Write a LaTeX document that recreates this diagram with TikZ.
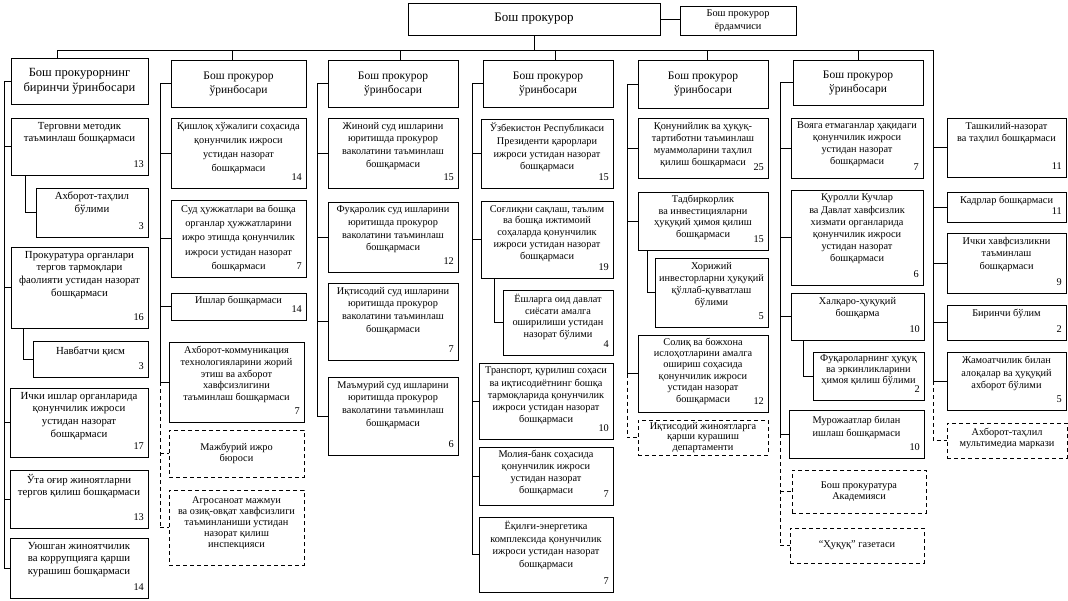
\documentclass[tikz,border=0pt]{standalone}
\usepackage{fontspec}
\setmainfont{Liberation Serif}
\tikzset{
 ubox/.style={draw, line width=0.8pt, inner sep=0pt, outer sep=0pt},
 dbox/.style={dash pattern=on 4pt off 3pt},
 btxt/.style={font=\fontsize{10.3}{12.6}\selectfont, align=center, inner sep=0pt},
 bnum/.style={font=\fontsize{10.3}{12}\selectfont, inner sep=0pt},
 dtxt/.style={font=\fontsize{11.5}{14}\selectfont, align=center, inner sep=0pt},
 ctxt/.style={font=\fontsize{10.3}{11}\selectfont, align=center, inner sep=0pt},
 conn/.style={line width=0.8pt},
 dconn/.style={line width=0.8pt, dash pattern=on 4pt off 3pt},
}
% [text style]{name}{x1}{y1}{x2}{y2}{text}{number}
\newcommand\ubx[8][]{%
 \node[ubox,minimum width={#5-#3}, minimum height={#6-#4}, anchor=north west] (#2) at (#3,#4) {};
 \node[btxt,#1, anchor=north] (#2-t) at ([yshift=-4pt]#2.north) {#7};
 \node[bnum, anchor=base east] (#2-n) at ([xshift=-4pt,yshift=8pt]#2.south east) {#8};}
% [box style]{name}{x1}{y1}{x2}{y2}{text style}{text}
\newcommand\cbx[8][]{%
 \node[ubox,#1,minimum width={#5-#3}, minimum height={#6-#4}, anchor=north west] (#2) at (#3,#4) {};
 \node[#7] (#2-t) at (#2.center) {#8};}
\begin{document}
\begin{tikzpicture}[x=1pt,y=-1pt]
\useasboundingbox (0,0) rectangle (1068,600);
% top
\node[ubox, minimum width=252, minimum height=32, anchor=north west, font=\fontsize{13}{15}\selectfont] (main) at (408,3) {Бош прокурор};
\node[ubox, minimum width=116, minimum height=29, anchor=north west, align=center, font=\fontsize{10.3}{13}\selectfont] (asst) at (680,6) {Бош прокурор\\ёрдамчиси};
\draw[conn] (main.east) -- (main.east -| asst.west);
\coordinate (t1) at (57,50);
\coordinate (t2) at (232,50);
\coordinate (t3) at (400,50);
\coordinate (t4) at (555,50);
\coordinate (t5) at (707,50);
\coordinate (t6) at (858,50);
\coordinate (t7) at (933,50);
\draw[conn] (main.south) -- (main.south |- t1);
\draw[conn] (t1) -- (t7);
% column 1
\cbx{d1}{11}{58}{148}{104}{dtxt,font=\fontsize{12.5}{15}\selectfont}{Бош прокурорнинг\\биринчи ўринбосари}
\ubx[font=\fontsize{10.8}{12.6}\selectfont]{a1}{11}{118}{148}{175}{Терговни методик\\таъминлаш бошқармаси}{13}
\ubx[font=\fontsize{10.8}{12.6}\selectfont]{a2}{36}{188}{148}{237}{Ахборот-таҳлил\\бўлими}{3}
\ubx[font=\fontsize{10.8}{12.6}\selectfont]{a3}{11}{247}{148}{328}{Прокуратура органлари\\тергов тармоқлари\\фаолияти устидан назорат\\бошқармаси}{16}
\ubx[font=\fontsize{10.8}{12.6}\selectfont, yshift=-2pt]{a4}{33}{341}{148}{377}{Навбатчи қисм}{3}
\ubx[font=\fontsize{10.8}{12.6}\selectfont]{a5}{10}{388}{148}{457}{Ички ишлар органларида\\қонунчилик ижроси\\устидан назорат\\бошқармаси}{17}
\ubx[font=\fontsize{10.8}{12.6}\selectfont]{a6}{10}{470}{148}{528}{Ўта оғир жиноятларни\\тергов қилиш бошқармаси}{13}
\ubx[font=\fontsize{10.8}{12.6}\selectfont]{a7}{10}{538}{148}{598}{Уюшган жиноятчилик\\ва коррупцияга қарши\\курашиш бошқармаси}{14}
\coordinate (s1) at (4,0);
\draw[conn] (t1) -- (t1 |- d1.north);
\draw[conn] (d1.west) -- (d1.west -| s1) -- (a7.west -| s1);
\foreach \n in {a1,a3,a5,a6,a7} \draw[conn] (\n.west -| s1) -- (\n.west);
\draw[conn] ([xshift=14pt]a1.south west) |- (a2.west);
\draw[conn] ([xshift=12pt]a3.south west) |- (a4.west);
% column 2
\cbx{d2}{171}{60}{306}{107}{dtxt}{Бош прокурор\\ўринбосари}
\ubx[font=\fontsize{10.3}{14}\selectfont]{b1}{171}{118}{306}{188}{Қишлоқ хўжалиги соҳасида\\қонунчилик ижроси\\устидан назорат\\бошқармаси}{14}
\ubx[font=\fontsize{10.3}{14.2}\selectfont, yshift=-1pt]{b2}{171}{200}{306}{277}{Суд ҳужжатлари ва бошқа\\органлар ҳужжатларини\\ижро этишда қонунчилик\\ижроси устидан назорат\\бошқармаси}{7}
\ubx[yshift=1pt]{b3}{171}{293}{306}{320}{Ишлар бошқармаси}{14}
\ubx[font=\fontsize{10.3}{11.8}\selectfont]{b4}{169}{342}{304}{422}{Ахборот-коммуникация\\технологияларини жорий\\этиш ва ахборот\\хавфсизлигини\\таъминлаш бошқармаси}{7}
\cbx[dbox]{b5}{169}{430}{304}{477}{ctxt,font=\fontsize{10.3}{11.8}\selectfont}{Мажбурий ижро\\бюроси}
\cbx[dbox]{b6}{169}{490}{304}{565}{ctxt,yshift=4pt}{Агросаноат мажмуи\\ва озиқ-овқат хавфсизлиги\\таъминланиши устидан\\назорат қилиш\\инспекцияси}
\coordinate (s2) at (160,0);
\draw[conn] (t2) -- (t2 |- d2.north);
\draw[conn] (d2.west) -- (d2.west -| s2) -- (b4.west -| s2);
\foreach \n in {b1,b2,b3,b4} \draw[conn] (\n.west -| s2) -- (\n.west);
\draw[dconn] (b4.west -| s2) -- (b6.west -| s2);
\foreach \n in {b5,b6} \draw[dconn] (\n.west -| s2) -- (\n.west);
% column 3
\cbx{d3}{328}{60}{458}{107}{dtxt}{Бош прокурор\\ўринбосари}
\ubx{c1}{328}{118}{458}{188}{Жиноий суд ишларини\\юритишда прокурор\\ваколатини таъминлаш\\бошқармаси}{15}
\ubx{c2}{328}{202}{458}{272}{Фуқаролик суд ишларини\\юритишда прокурор\\ваколатини таъминлаш\\бошқармаси}{12}
\ubx{c3}{328}{283}{458}{360}{Иқтисодий суд ишларини\\юритишда прокурор\\ваколатини таъминлаш\\бошқармаси}{7}
\ubx{c4}{328}{377}{458}{455}{Маъмурий суд ишларини\\юритишда прокурор\\ваколатини таъминлаш\\бошқармаси}{6}
\coordinate (s3) at (317,0);
\draw[conn] (t3) -- (t3 |- d3.north);
\draw[conn] (d3.west) -- (d3.west -| s3) -- (c4.west -| s3);
\foreach \n in {c1,c2,c3,c4} \draw[conn] (\n.west -| s3) -- (\n.west);
% column 4
\cbx{d4}{483}{60}{613}{107}{dtxt}{Бош прокурор\\ўринбосари}
\ubx{e1}{481}{119}{613}{188}{Ўзбекистон Республикаси\\Президенти қарорлари\\ижроси устидан назорат\\бошқармаси}{15}
\ubx[font=\fontsize{10.3}{11.8}\selectfont]{e2}{481}{201}{613}{278}{Соғлиқни сақлаш, таълим\\ва бошқа ижтимоий\\соҳаларда қонунчилик\\ижроси устидан назорат\\бошқармаси}{19}
\ubx[font=\fontsize{10.3}{11.5}\selectfont]{e3}{503}{290}{613}{355}{Ёшларга оид давлат\\сиёсати амалга\\оширилиши устидан\\назорат бўлими}{4}
\ubx[font=\fontsize{10.3}{12.2}\selectfont]{e4}{479}{363}{613}{439}{Транспорт, қурилиш соҳаси\\ва иқтисодиётнинг бошқа\\тармоқларида қонунчилик\\ижроси устидан назорат\\бошқармаси}{10}
\ubx[font=\fontsize{10.3}{12}\selectfont, yshift=1pt]{e5}{479}{447}{613}{505}{Молия-банк соҳасида\\қонунчилик ижроси\\устидан назорат\\бошқармаси}{7}
\ubx{e6}{479}{517}{613}{592}{Ёқилғи-энергетика\\комплексида қонунчилик\\ижроси устидан назорат\\бошқармаси}{7}
\coordinate (s4) at (472,0);
\draw[conn] (t4) -- (t4 |- d4.north);
\draw[conn] (d4.west) -- (d4.west -| s4) -- (e6.west -| s4);
\foreach \n in {e1,e2,e4,e5,e6} \draw[conn] (\n.west -| s4) -- (\n.west);
\draw[conn] ([xshift=13pt]e2.south west) |- (e3.west);
% column 5
\cbx{d5}{638}{60}{768}{108}{dtxt}{Бош прокурор\\ўринбосари}
\ubx[font=\fontsize{10.3}{12}\selectfont]{f1}{638}{118}{768}{178}{Қонунийлик ва ҳуқуқ-\\тартиботни таъминлаш\\муаммоларини таҳлил\\қилиш бошқармаси}{25}
\ubx[font=\fontsize{10.3}{11.5}\selectfont, yshift=1pt]{f2}{638}{192}{768}{250}{Тадбиркорлик\\ва инвестицияларни\\ҳуқуқий ҳимоя қилиш\\бошқармаси}{15}
\ubx[font=\fontsize{10.3}{12}\selectfont]{f3}{655}{258}{768}{327}{Хорижий\\инвесторларни ҳуқуқий\\қўллаб-қувватлаш\\бўлими}{5}
\ubx[font=\fontsize{10.3}{11.4}\selectfont, yshift=1.5pt]{f4}{638}{335}{768}{412}{Солиқ ва божхона\\ислоҳотларини амалга\\ошириш соҳасида\\қонунчилик ижроси\\устидан назорат\\бошқармаси}{12}
\cbx[dbox]{f5}{638}{420}{768}{455}{ctxt,font=\fontsize{10.3}{10.8}\selectfont}{Иқтисодий жиноятларга\\қарши курашиш\\департаменти}
\coordinate (s5) at (627,0);
\draw[conn] (t5) -- (t5 |- d5.north);
\draw[conn] (d5.west) -- (d5.west -| s5) -- (f4.west -| s5);
\foreach \n in {f1,f2,f4} \draw[conn] (\n.west -| s5) -- (\n.west);
\draw[dconn] (f4.west -| s5) -- (f5.west -| s5) -- (f5.west);
\draw[conn] ([xshift=9pt]f2.south west) |- (f3.west);
% column 6
\cbx{d6}{793}{60}{923}{105}{dtxt}{Бош прокурор\\ўринбосари}
\ubx[font=\fontsize{10.3}{12}\selectfont]{g1}{791}{118}{923}{178}{Вояга етмаганлар ҳақидаги\\қонунчилик ижроси\\устидан назорат\\бошқармаси}{7}
\ubx[font=\fontsize{10.3}{12.2}\selectfont]{g2}{791}{190}{923}{285}{Қуролли Кучлар\\ва Давлат хавфсизлик\\хизмати органларида\\қонунчилик ижроси\\устидан назорат\\бошқармаси}{6}
\ubx{g3}{791}{293}{924}{340}{Халқаро-ҳуқуқий\\бошқарма}{10}
\ubx[font=\fontsize{10.3}{10.6}\selectfont, yshift=1pt]{g4}{813}{352}{924}{400}{Фуқароларнинг ҳуқуқ\\ва эркинликларини\\ҳимоя қилиш бўлими}{2}
\ubx[yshift=-2pt]{g5}{789}{410}{924}{458}{Мурожаатлар билан\\ишлаш бошқармаси}{10}
\cbx[dbox]{g6}{792}{470}{926}{513}{ctxt,font=\fontsize{10.3}{10.5}\selectfont}{Бош прокуратура\\Академияси}
\cbx[dbox]{g7}{790}{528}{924}{563}{ctxt}{“Ҳуқуқ” газетаси}
\coordinate (s6) at (780,0);
\draw[conn] (t6) -- (t6 |- d6.north);
\draw[conn] (d6.west) -- (d6.west -| s6) -- (g5.west -| s6);
\foreach \n in {g1,g2,g3,g5} \draw[conn] (\n.west -| s6) -- (\n.west);
\draw[dconn] (g5.west -| s6) -- (g7.west -| s6);
\foreach \n in {g6,g7} \draw[dconn] (\n.west -| s6) -- (\n.west);
\draw[conn] ([xshift=12pt]g3.south west) |- (g4.west);
% column 7
\ubx{h1}{947}{118}{1066}{177}{Ташкилий-назорат\\ва таҳлил бошқармаси}{11}
\ubx{h2}{947}{192}{1066}{222}{Кадрлар бошқармаси}{11}
\ubx{h3}{947}{233}{1066}{293}{Ички хавфсизликни\\таъминлаш\\бошқармаси}{9}
\ubx{h4}{947}{305}{1066}{340}{Биринчи бўлим}{2}
\ubx{h5}{947}{352}{1066}{410}{Жамоатчилик билан\\алоқалар ва ҳуқуқий\\ахборот бўлими}{5}
\cbx[dbox]{h6}{947}{423}{1067}{458}{ctxt,font=\fontsize{10.3}{10.5}\selectfont,yshift=2pt}{Ахборот-таҳлил\\мультимедиа маркази}
\draw[conn] (t7) -- (h5.west -| t7);
\foreach \n in {h1,h2,h3,h4,h5} \draw[conn] (\n.west -| t7) -- (\n.west);
\draw[dconn] (h5.west -| t7) -- (h6.west -| t7) -- (h6.west);
\end{tikzpicture}
\end{document}
